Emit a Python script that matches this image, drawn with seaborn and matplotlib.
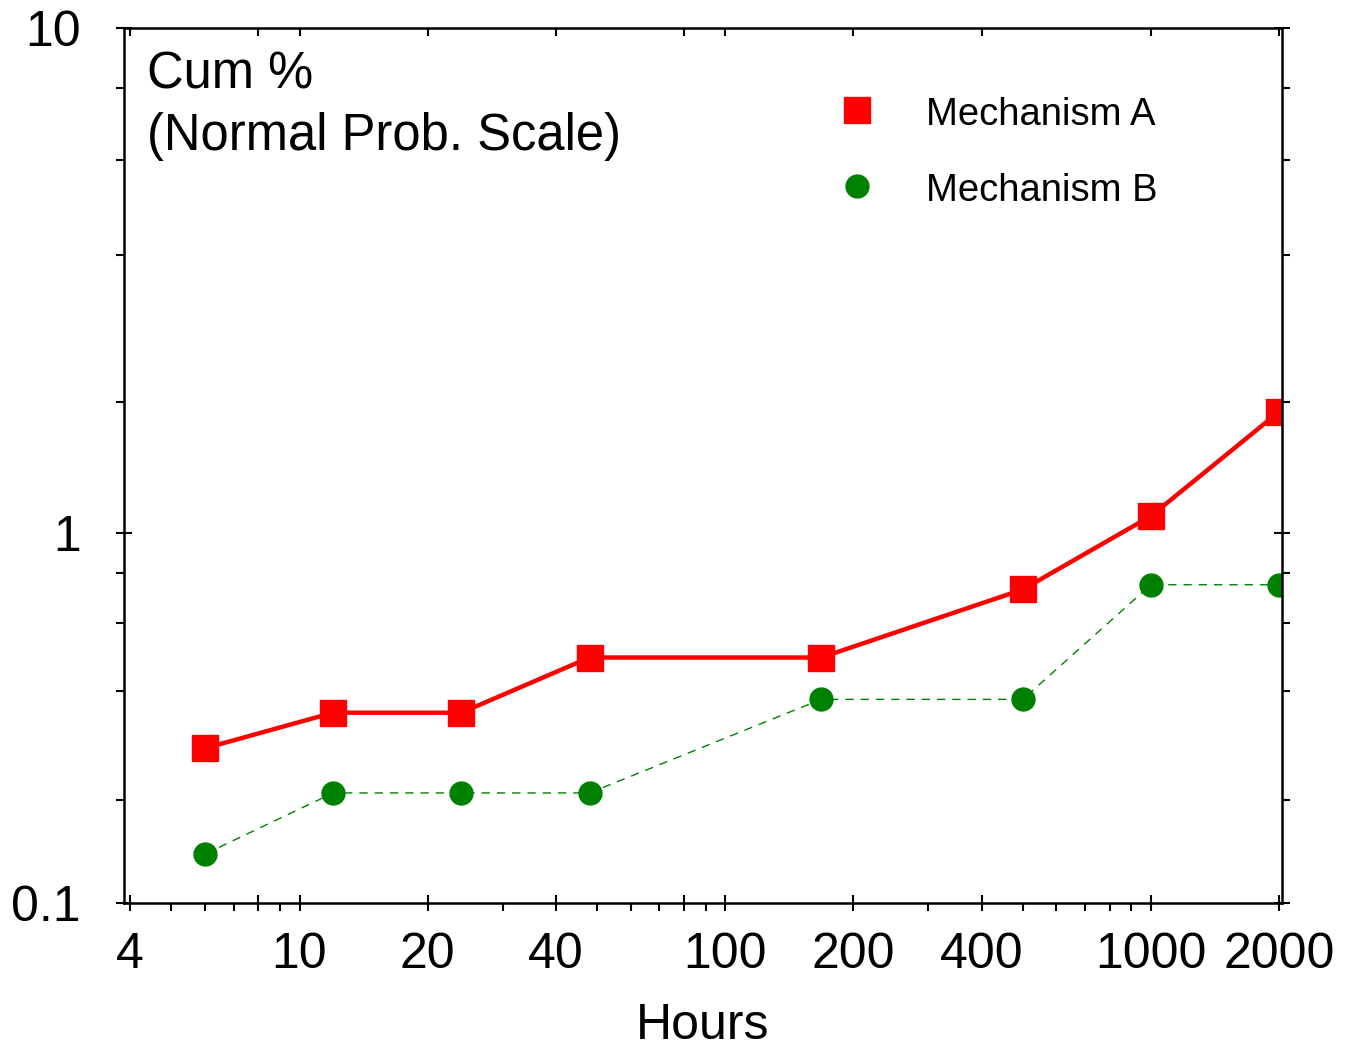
import numpy as np
import pandas as pd
import matplotlib
matplotlib.use("Agg")
import matplotlib.pyplot as plt
from matplotlib.lines import Line2D
import seaborn as sns
from statistics import NormalDist

# ---- data ----
hours = [6, 12, 24, 48, 168, 500, 1000, 2000]
mech_a = [0.28, 0.35, 0.35, 0.49, 0.49, 0.73, 1.1, 1.9]
mech_b = [0.14, 0.21, 0.21, 0.21, 0.38, 0.38, 0.75, 0.75]
series_names = ["Mechanism A", "Mechanism B"]

x_major = [4, 8, 10, 20, 40, 80, 100, 200, 400, 1000, 2000]
x_labels = ["4", "", "10", "20", "40", "", "100", "200", "400", "1000", "2000"]
x_minor = [5, 6, 7, 9, 30, 50, 60, 70, 90, 300, 500, 600, 700, 800, 900]
y_major = [0.1, 1, 10]
y_labels = ["0.1", "1", "10"]
y_minor = [0.2, 0.4, 0.6, 0.8, 2, 4, 6, 8]

# ---- normal probability scale ----
_nd = NormalDist()
_ppf = np.vectorize(lambda q: _nd.inv_cdf(q) if 0 < q < 1 else np.nan, otypes=[float])
_cdf = np.vectorize(lambda z: _nd.cdf(z) if np.isfinite(z) else np.nan, otypes=[float])


def fwd(p):
    p = np.asarray(p, dtype=float)
    q = np.clip(p / 100.0, 1e-12, 1 - 1e-12)
    return _ppf(q)


def inv(z):
    z = np.asarray(z, dtype=float)
    return _cdf(z) * 100.0


sns.set_style("ticks")
plt.rcParams["font.family"] = ["Liberation Sans", "DejaVu Sans"]
for k in ["text.color", "axes.labelcolor", "xtick.color", "ytick.color", "axes.edgecolor"]:
    plt.rcParams[k] = "black"

fig = plt.figure(figsize=(13.62, 10.5), dpi=100)
ax = fig.add_axes([124 / 1362, 1 - 903 / 1050, (1282 - 124) / 1362, (903 - 28) / 1050])

ax.set_xscale("log")
ax.set_yscale("function", functions=(fwd, inv))

df = pd.DataFrame({"Hours": hours * 2,
                   "Cum": mech_a + mech_b,
                   "Series": [series_names[0]] * len(hours) + [series_names[1]] * len(hours)})

sns.lineplot(data=df[df.Series == series_names[0]], x="Hours", y="Cum", ax=ax,
             color="#ff0000", linewidth=3.2, marker="s", markersize=18.5,
             markeredgecolor="#ff0000", markeredgewidth=1, estimator=None, sort=False)
sns.lineplot(data=df[df.Series == series_names[1]], x="Hours", y="Cum", ax=ax,
             color="#008000", linewidth=1.0, marker="o", markersize=16.5,
             markeredgecolor="#008000", markeredgewidth=1, estimator=None, sort=False,
             dashes=False)
ax.lines[-1].set_dashes((6, 5))

ax.set_xlim(3.87, 2032)
ax.set_ylim(0.1, 10)

# top ticks (inward, majors only) on a twin axes sharing y
axt = ax.twiny()
axt.set_xscale("log")
axt.set_xlim(ax.get_xlim())
axt.set_xticks(x_major)
axt.set_xticks([], minor=True)
axt.tick_params(axis="x", which="major", direction="in", length=6, width=1.5,
                top=True, labeltop=False, bottom=False)
for s in axt.spines.values():
    s.set_visible(False)

ax.set_xticks(x_major)
ax.set_xticklabels(x_labels)
ax.set_xticks(x_minor, minor=True)
ax.set_yticks(y_major)
ax.set_yticklabels(y_labels)
ax.set_yticks(y_minor, minor=True)

for s in ax.spines.values():
    s.set_linewidth(1.8)
    s.set_color("black")
    s.set_visible(True)

ax.tick_params(axis="x", which="major", direction="inout", length=12, width=1.5,
               labelsize=36, pad=15, bottom=True, top=False, colors="black")
ax.tick_params(axis="x", which="minor", direction="out", length=6, width=1.5,
               bottom=True, top=False)
ax.tick_params(axis="y", which="major", direction="inout", length=12, width=1.5,
               labelsize=36, pad=25, left=True, right=True, colors="black")
ax.tick_params(axis="y", which="minor", direction="out", length=6, width=1.5,
               left=True, right=True)

ax.set_xlabel("Hours", fontsize=36, labelpad=18)
ax.set_ylabel("")

ax.text(0.0199, 0.931, "Cum %", transform=ax.transAxes, fontsize=36.5,
        ha="left", va="baseline")
ax.text(0.0199, 0.861, "(Normal Prob. Scale)", transform=ax.transAxes, fontsize=36.5,
        ha="left", va="baseline")

handles = [Line2D([], [], color="#ff0000", marker="s", linestyle="none", markersize=19),
           Line2D([], [], color="#008000", marker="o", linestyle="none", markersize=16.5)]
ax.legend(handles, series_names, loc="upper left", bbox_to_anchor=(0.6166, 0.924),
          frameon=False, fontsize=27.5, handlelength=1.0, handleheight=1.0,
          handletextpad=1.3, labelspacing=1.0, borderaxespad=0, borderpad=0)

fig.savefig("out.png", dpi=100)
